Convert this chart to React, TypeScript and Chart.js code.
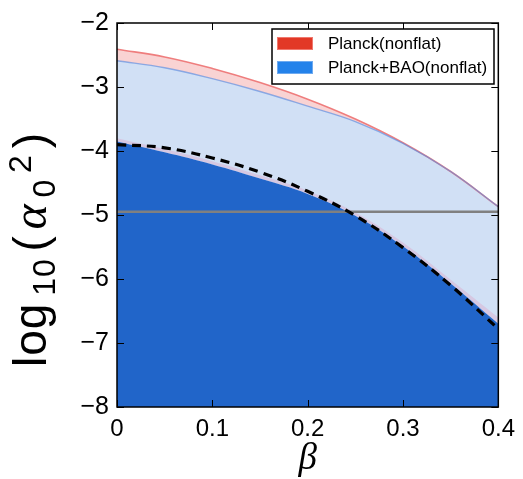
import React, { useEffect, useRef } from "react";
import { Chart, registerables } from "chart.js";

Chart.register(...registerables);

// ---- data ----
const betaValues = [0, 0.05, 0.1, 0.15, 0.2, 0.25, 0.3, 0.35, 0.4];
const planckUpper = [-2.41, -2.53, -2.71, -2.93, -3.19, -3.5, -3.87, -4.32, -4.87];
const planckLower = [-3.8, -3.97, -4.16, -4.38, -4.62, -4.96, -5.43, -6.01, -6.6];
const baoUpper = [-2.59, -2.7, -2.87, -3.07, -3.3, -3.54, -3.88, -4.32, -4.87];
const baoLower = [-3.85, -4.02, -4.21, -4.43, -4.67, -5.01, -5.49, -6.07, -6.7];
const dashedBound = [-3.9, -3.95, -4.11, -4.33, -4.63, -5.01, -5.51, -6.1, -6.78];
const hLineValue = -4.95;
const seriesLabels = ["Planck(nonflat)", "Planck+BAO(nonflat)"];
const xTickValues = [0, 0.1, 0.2, 0.3, 0.4];
const xTickLabels = ["0", "0.1", "0.2", "0.3", "0.4"];
const yTickValues = [-8, -7, -6, -5, -4, -3, -2];
const yTickLabels = ["\u22128", "\u22127", "\u22126", "\u22125", "\u22124", "\u22123", "\u22122"];

const pts = (ys: number[]) => betaValues.map((x, i) => ({ x, y: ys[i] }));

const decorPlugin = {
  id: "decor",
  afterDraw(chart: any) {
    const { ctx, chartArea: a, scales } = chart;
    const xs = scales.x;
    const ys = scales.y;
    ctx.save();
    // frame
    ctx.strokeStyle = "#000";
    ctx.lineWidth = 1.5;
    ctx.strokeRect(a.left, a.top, a.right - a.left, a.bottom - a.top);
    // inward ticks on all sides
    ctx.lineWidth = 1;
    const tl = 7;
    ctx.beginPath();
    xTickValues.forEach((v) => {
      const px = Math.round(xs.getPixelForValue(v)) + 0.5;
      ctx.moveTo(px, a.bottom);
      ctx.lineTo(px, a.bottom - tl);
      ctx.moveTo(px, a.top);
      ctx.lineTo(px, a.top + tl);
    });
    yTickValues.forEach((v) => {
      const py = Math.round(ys.getPixelForValue(v)) + 0.5;
      ctx.moveTo(a.left, py);
      ctx.lineTo(a.left + tl, py);
      ctx.moveTo(a.right, py);
      ctx.lineTo(a.right - tl, py);
    });
    ctx.stroke();

    // legend
    const lx = 272, ly = 29, lw = 222, lh = 55;
    ctx.fillStyle = "#fff";
    ctx.fillRect(lx, ly, lw, lh);
    ctx.lineWidth = 1.5;
    ctx.strokeStyle = "#000";
    ctx.strokeRect(lx, ly, lw, lh);
    const swatches = ["rgb(226,56,38)", "rgb(36,130,234)"];
    const swBorder = ["rgba(240,120,110,1)", "rgba(110,170,240,1)"];
    seriesLabels.forEach((label, i) => {
      const sy = 37 + i * 24;
      ctx.fillStyle = swatches[i];
      ctx.fillRect(277, sy, 36, 13);
      ctx.strokeStyle = swBorder[i];
      ctx.lineWidth = 1;
      ctx.strokeRect(277.5, sy + 0.5, 35, 12);
      ctx.fillStyle = "#000";
      ctx.font = "17px 'Liberation Sans', Arial, sans-serif";
      ctx.textBaseline = "middle";
      ctx.textAlign = "left";
      ctx.fillText(label, 328, sy + 7);
    });

    // x axis title
    ctx.fillStyle = "#000";
    ctx.font = "italic 37px 'Liberation Serif', serif";
    ctx.textAlign = "center";
    ctx.textBaseline = "alphabetic";
    ctx.fillText("\u03B2", (a.left + a.right) / 2, 469);

    // y axis title: log10(alpha0^2), laid out upward from y=367 to y=133
    const main = "46px 'Liberation Sans', Arial, sans-serif";
    const sub = "32px 'Liberation Sans', Arial, sans-serif";
    const ital = "italic 48px 'Liberation Serif', serif";
    const pieces: [string, string, number, string][] = [
      ["log", main, 0, "1px"],
      ["10", sub, 9, "1px"],
      ["(", main, 0, "0px"],
      ["\u03B1", ital, 0, "0px"],
      ["0", sub, 9, "0px"],
      ["2", sub, -15, "0px"],
      [")", main, 0, "0px"],
    ];
    const widths = pieces.map(([t, f, , ls]) => {
      ctx.font = f;
      (ctx as any).letterSpacing = ls;
      return ctx.measureText(t).width;
    });
    const sum = widths.reduce((p, c) => p + c, 0);
    const startY = 367, endY = 133;
    const gap = Math.max(0, (startY - endY - sum) / (pieces.length - 1));
    let pos = startY;
    ctx.textAlign = "left";
    pieces.forEach(([t, f, dy, ls], i) => {
      ctx.save();
      ctx.translate(46, pos);
      ctx.rotate(-Math.PI / 2);
      ctx.font = f;
      (ctx as any).letterSpacing = ls;
      ctx.fillText(t, 0, dy);
      ctx.restore();
      pos -= widths[i] + gap;
    });
    ctx.restore();
  },
};

export default function App() {
  const ref = useRef<HTMLCanvasElement | null>(null);
  useEffect(() => {
    if (!ref.current) return;
    const curve = { pointRadius: 0, tension: 0.4 };
    const chart = new Chart(ref.current, {
      type: "line",
      data: {
        datasets: [
          // 0 pink band (Planck)
          { ...curve, data: pts(planckUpper), borderWidth: 0, fill: 1, backgroundColor: "rgb(249,211,211)", order: 10 },
          // 1 target
          { ...curve, data: pts(planckLower), borderWidth: 0, fill: false, order: 9 },
          // 2 light blue band (Planck+BAO)
          { ...curve, data: pts(baoUpper), borderWidth: 0, fill: 3, backgroundColor: "rgb(209,224,245)", order: 8 },
          // 3 target
          { ...curve, data: pts(baoLower), borderWidth: 0, fill: false, order: 7 },
          // 4 lavender sliver
          { ...curve, data: pts(planckLower), borderWidth: 0, fill: 5, backgroundColor: "rgb(214,200,226)", order: 6 },
          // 5 dark blue region
          { ...curve, data: pts(baoLower), borderWidth: 0, fill: "start", backgroundColor: "rgb(33,101,201)", order: 5 },
          // 6 red upper line
          { ...curve, data: pts(planckUpper), borderWidth: 1.6, borderColor: "rgba(238,120,120,0.95)", fill: false, order: 4 },
          // 7 blue upper line
          { ...curve, data: pts(baoUpper), borderWidth: 1.4, borderColor: "rgba(90,140,225,0.65)", fill: false, order: 3 },
          // 8 gray horizontal line
          { data: [{ x: 0, y: hLineValue }, { x: 0.4, y: hLineValue }], pointRadius: 0, borderWidth: 2.6, borderColor: "#808080", fill: false, order: 2 },
          // 9 dashed bound
          { ...curve, data: pts(dashedBound), borderWidth: 3.2, borderColor: "#000", borderDash: [9, 6], fill: false, order: 1 },
        ],
      },
      options: {
        animation: false,
        responsive: false,
        devicePixelRatio: 1,
        events: [],
        layout: { padding: { left: 0, top: 21, right: 20, bottom: 0 } },
        plugins: { legend: { display: false }, tooltip: { enabled: false } },
        scales: {
          x: {
            type: "linear",
            min: 0,
            max: 0.4,
            grid: { display: false, drawTicks: false },
            border: { display: false },
            afterBuildTicks: (s: any) => { s.ticks = xTickValues.map((v) => ({ value: v })); },
            afterFit: (s: any) => { s.height = 72; },
            ticks: {
              padding: 8,
              color: "#000",
              font: { family: "'Liberation Sans', Arial, sans-serif", size: 24 },
              callback: (_v: any, i: number) => xTickLabels[i],
              maxRotation: 0,
              autoSkip: false,
            },
          },
          y: {
            type: "linear",
            min: -8,
            max: -2,
            grid: { display: false, drawTicks: false },
            border: { display: false },
            afterBuildTicks: (s: any) => { s.ticks = yTickValues.map((v) => ({ value: v })); },
            afterFit: (s: any) => { s.width = 117; },
            ticks: {
              padding: 8,
              color: "#000",
              font: { family: "'Liberation Sans', Arial, sans-serif", size: 25 },
              callback: (_v: any, i: number) => yTickLabels[i],
              autoSkip: false,
            },
          },
        },
      },
      plugins: [decorPlugin],
    });
    return () => chart.destroy();
  }, []);
  return (
    <div style={{ position: "fixed", left: 0, top: 0, width: 523, height: 479, background: "#fff" }}>
      <canvas ref={ref} width={523} height={479} style={{ display: "block" }} />
    </div>
  );
}
